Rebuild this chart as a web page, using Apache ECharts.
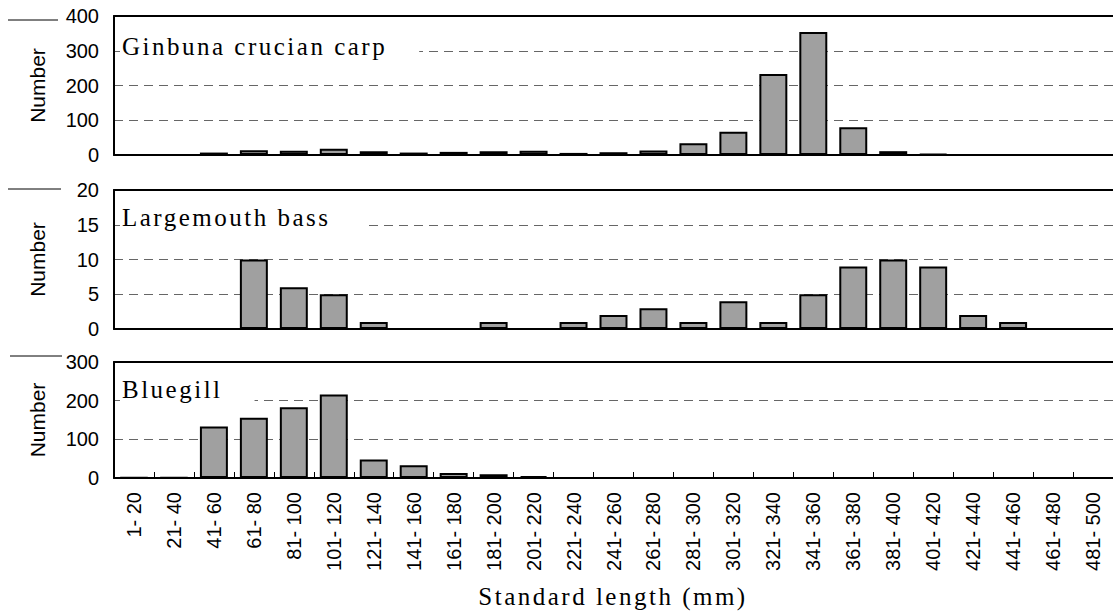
<!DOCTYPE html>
<html><head><meta charset="utf-8">
<script src="https://cdn.jsdelivr.net/npm/echarts@6/dist/echarts.min.js"></script>
<style>
html,body{margin:0;padding:0;background:#fff;}
#c{width:1113px;height:613px;}
#c text[style*="Serif"]{letter-spacing:2.5px;}
</style></head><body><div id="c"></div>
<script>
const categories = ['1- 20','21- 40','41- 60','61- 80','81- 100','101- 120','121- 140','141- 160','161- 180','181- 200','201- 220','221- 240','241- 260','261- 280','281- 300','301- 320','321- 340','341- 360','361- 380','381- 400','401- 420','421- 440','441- 460','461- 480','481- 500'];
const ginbuna  = [0,0,7,14,12,18,11,7,9,11,12,6,8,13,34,67,233,354,80,11,3,0,0,0,0];
const bass     = [0,0,0,10,6,5,1,0,0,1,0,1,2,3,1,4,1,5,9,10,9,2,1,0,0];
const bluegill = [1,1,133,156,183,216,48,33,13,10,5,0,0,0,0,0,0,0,0,0,0,0,0,0,0];
const panelNames = ['Ginbuna crucian carp','Largemouth bass','Bluegill'];
const yMax = [400, 20, 300];
const yStep = [100, 5, 100];
const xTitle = 'Standard length (mm)';
const yTitle = 'Number';

const seriesData = [ginbuna, bass, bluegill];
const grids = [
  {left:114, right:0, top:16, height:139},
  {left:114, right:0, top:190, height:139},
  {left:114, right:0, top:362, height:116}
];
const SERIF = 'Liberation Serif';
const SANS = '"Liberation Sans", Arial, sans-serif';

const xAxes = [], yAxes = [], series = [], titles = [];
const padRight = [82, 70, 52];
const titleTops = [31, 202, 374];
for (let i = 0; i < 3; i++) {
  xAxes.push({
    type:'category', gridIndex:i, data:categories, position:'bottom', z:3,
    axisLine:{show:true, lineStyle:{color:'#000', width:2}},
    axisTick:{show:i===2, inside:true, length:6, lineStyle:{color:'#000', width:1}},
    axisLabel:{show:i===2, rotate:90, interval:0, fontSize:20, fontFamily:SANS, color:'#000', margin:14},
    splitLine:{show:false}
  });
  xAxes.push({
    type:'category', gridIndex:i, data:categories, position:'top', z:3,
    axisLine:{show:true, lineStyle:{color:'#000', width:2}},
    axisTick:{show:false}, axisLabel:{show:false}, splitLine:{show:false}
  });
  yAxes.push({
    type:'value', gridIndex:i, min:0, max:yMax[i], interval:yStep[i], z:1,
    name:yTitle, nameLocation:'middle', nameGap:66,
    nameTextStyle:{fontSize:21, fontFamily:SANS, color:'#000'},
    axisLine:{show:true, lineStyle:{color:'#000', width:2}},
    axisTick:{show:false},
    axisLabel:{fontSize:20, fontFamily:SANS, color:'#000', margin:15, padding:[6,0,0,0]},
    splitLine:{show:true, lineStyle:{color:'#666', width:1, type:[9,6]}}
  });
  series.push({
    type:'bar', xAxisIndex:i*2, yAxisIndex:i, data:seriesData[i], z:2,
    barCategoryGap:'30%',
    itemStyle:{color:'#a0a0a0', borderColor:'#000', borderWidth:2}
  });
  titles.push({
    text:panelNames[i], left:120, top:titleTops[i],
    backgroundColor:'#fff', padding:[3, padRight[i], i===2?6:3, 2],
    textStyle:{fontSize:25, fontFamily:SERIF, fontWeight:'normal', color:'#000'}
  });
}
titles.push({
  text:xTitle, left:613, top:584, textAlign:'center', padding:0,
  textStyle:{fontSize:25, fontFamily:SERIF, fontWeight:'normal', color:'#000'}
});

const chart = echarts.init(document.getElementById('c'), null, {renderer:'svg'});
chart.setOption({
  animation:false,
  backgroundColor:'#fff',
  title:titles,
  grid:grids,
  xAxis:xAxes,
  yAxis:yAxes,
  series:series,
  graphic:[
    {type:'line', shape:{x1:8, y1:20, x2:58, y2:20}, style:{stroke:'#000', lineWidth:1}},
    {type:'line', shape:{x1:8, y1:189, x2:61, y2:189}, style:{stroke:'#000', lineWidth:1}},
    {type:'line', shape:{x1:10, y1:356, x2:62, y2:356}, style:{stroke:'#000', lineWidth:1}}
  ]
});
</script></body></html>
